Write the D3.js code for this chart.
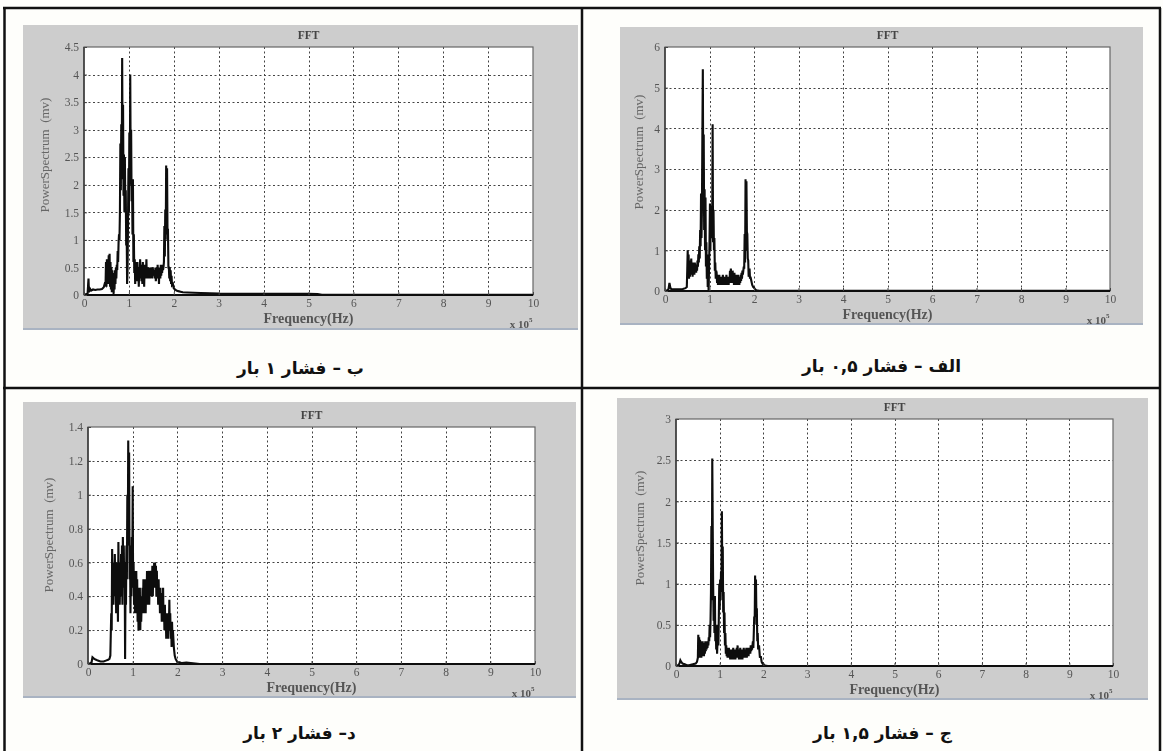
<!DOCTYPE html>
<html>
<head>
<meta charset="utf-8">
<script src="https://cdn.jsdelivr.net/npm/d3@7"></script>
<style>
  html, body { margin: 0; padding: 0; background: #fefefb; }
  svg { display: block; }
</style>
</head>
<body>
<svg id="fig" width="1163" height="751"></svg>
<script>
// ---------------------------------------------------------------
// Spectra: [frequency (x10^5 Hz), power spectrum (mv)]
// ---------------------------------------------------------------
const freqTicks = [0, 1, 2, 3, 4, 5, 6, 7, 8, 9, 10];

const yTicks05 = [0, 1, 2, 3, 4, 5, 6];
const yTicks10 = [0, 0.5, 1, 1.5, 2, 2.5, 3, 3.5, 4, 4.5];
const yTicks15 = [0, 0.5, 1, 1.5, 2, 2.5, 3];
const yTicks20 = [0, 0.2, 0.4, 0.6, 0.8, 1, 1.2, 1.4];

// 0.5 bar
const spectrum05 = [
  [0,0],[0.05,0.02],[0.08,0.05],[0.1,0.2],[0.12,0.08],[0.14,0.05],[0.2,0.04],[0.3,0.04],[0.4,0.05],[0.46,0.07],[0.49,0.1],
  [0.5,0.5],[0.51,1.0],[0.52,0.4],[0.53,0.9],[0.54,0.3],[0.55,0.75],[0.56,0.35],[0.57,0.7],[0.58,0.4],[0.59,0.8],
  [0.6,0.45],[0.61,0.65],[0.62,0.35],[0.63,0.7],[0.64,0.45],[0.65,0.6],[0.66,0.4],[0.67,0.7],[0.68,0.5],[0.69,0.6],
  [0.7,0.45],[0.71,0.65],[0.72,0.5],[0.73,0.75],[0.74,0.6],[0.75,0.9],[0.76,0.7],[0.77,1.1],[0.78,0.8],[0.79,1.5],
  [0.8,1.1],[0.81,2.4],[0.82,1.3],[0.83,2.0],[0.84,3.85],[0.85,5.45],[0.86,2.5],[0.87,3.85],[0.88,1.5],[0.89,2.5],
  [0.9,1.0],[0.91,2.3],[0.92,0.6],[0.93,1.2],[0.94,0.3],[0.95,0.9],[0.96,0.1],[0.97,0.4],[0.98,0.0],[0.99,0.6],
  [1.0,1.2],[1.01,2.15],[1.02,1.0],[1.03,2.1],[1.04,1.3],[1.05,2.0],[1.06,1.5],[1.07,4.1],[1.08,1.2],[1.09,2.0],
  [1.1,1.0],[1.11,1.3],[1.12,0.5],[1.13,0.7],[1.14,0.3],[1.15,0.5],
  [1.16,0.45],[1.17,0.2],[1.18,0.4],[1.19,0.15],[1.2,0.35],[1.21,0.2],[1.22,0.4],[1.23,0.15],[1.24,0.35],[1.25,0.2],
  [1.26,0.3],[1.27,0.15],[1.28,0.35],[1.29,0.2],[1.3,0.4],[1.31,0.15],[1.32,0.3],[1.33,0.2],[1.34,0.35],[1.35,0.15],
  [1.36,0.3],[1.37,0.2],[1.38,0.4],[1.39,0.15],[1.4,0.35],[1.41,0.2],[1.42,0.3],[1.43,0.15],[1.44,0.35],[1.45,0.2],
  [1.46,0.5],[1.47,0.25],[1.48,0.55],[1.49,0.2],[1.5,0.45],[1.51,0.2],[1.52,0.5],[1.53,0.25],[1.54,0.4],[1.55,0.15],
  [1.56,0.45],[1.57,0.2],[1.58,0.35],[1.59,0.15],[1.6,0.4],[1.61,0.2],[1.62,0.3],[1.63,0.15],[1.64,0.4],[1.65,0.2],
  [1.66,0.35],[1.67,0.15],[1.68,0.3],[1.69,0.2],[1.7,0.4],[1.71,0.25],[1.72,0.45],[1.73,0.3],[1.74,0.5],[1.75,0.4],
  [1.76,0.5],[1.77,0.6],[1.78,0.55],[1.79,1.4],[1.8,0.7],[1.81,2.75],[1.82,1.0],[1.83,2.7],[1.84,1.45],[1.85,1.4],
  [1.86,0.8],[1.87,0.75],[1.88,0.35],[1.9,0.55],[1.91,0.3],[1.92,0.35],[1.94,0.25],[1.96,0.15],[1.98,0.1],[2.0,0.08],
  [2.02,0.05],[2.05,0.02],[2.1,0.01],[2.2,0.005],[3,0.005],[10,0.005]
];

// 1 bar
const spectrum10 = [
  [0,0],[0.02,0.01],[0.08,0.02],[0.1,0.3],[0.11,0.05],[0.13,0.12],[0.16,0.08],[0.2,0.1],[0.25,0.09],[0.3,0.1],
  [0.35,0.1],[0.4,0.11],[0.44,0.14],[0.46,0.2],[0.48,0.18],
  [0.49,0.6],[0.5,0.15],[0.51,0.65],[0.52,0.25],[0.53,0.55],[0.54,0.2],[0.55,0.72],[0.56,0.3],[0.57,0.75],[0.58,0.15],
  [0.59,0.6],[0.6,0.1],[0.61,0.5],[0.62,0.05],[0.63,0.45],[0.64,0.15],[0.65,0.35],[0.66,0.02],[0.67,0.4],[0.68,0.1],
  [0.69,0.45],[0.7,0.2],[0.71,0.5],[0.72,0.3],[0.73,0.55],[0.74,0.45],[0.75,0.8],[0.76,0.6],[0.77,0.95],[0.78,1.1],
  [0.79,1.0],[0.8,1.5],[0.81,2.75],[0.82,1.9],[0.83,3.1],[0.84,2.1],[0.85,4.3],[0.86,2.5],[0.87,3.45],[0.88,1.8],
  [0.89,2.55],[0.9,1.5],[0.91,2.5],[0.92,1.6],[0.93,1.9],[0.94,0.9],[0.95,1.2],[0.96,0.2],[0.97,0.45],[0.98,1.3],
  [0.99,2.3],[1.0,1.5],[1.01,2.95],[1.02,2.0],[1.03,4.0],[1.04,2.3],[1.05,3.0],[1.06,1.7],[1.07,2.1],[1.08,1.1],
  [1.09,2.1],[1.1,0.6],[1.11,1.1],[1.12,0.4],[1.13,0.65],[1.14,0.2],[1.15,0.6],
  [1.16,0.35],[1.17,0.55],[1.18,0.25],[1.19,0.6],[1.2,0.3],[1.21,0.5],[1.22,0.15],[1.23,0.45],[1.24,0.3],[1.25,0.65],
  [1.26,0.35],[1.27,0.55],[1.28,0.25],[1.29,0.5],[1.3,0.2],[1.31,0.6],[1.32,0.35],[1.33,0.45],[1.34,0.15],[1.35,0.55],
  [1.36,0.3],[1.37,0.5],[1.38,0.35],[1.39,0.65],[1.4,0.3],[1.42,0.45],[1.43,0.3],[1.44,0.5],[1.45,0.35],[1.46,0.45],
  [1.47,0.3],[1.48,0.5],[1.5,0.35],[1.51,0.45],[1.52,0.3],[1.53,0.5],[1.55,0.35],[1.56,0.45],[1.58,0.3],[1.59,0.5],
  [1.6,0.25],[1.62,0.45],[1.63,0.3],[1.64,0.55],[1.65,0.3],[1.66,0.45],[1.67,0.2],[1.68,0.5],[1.7,0.3],[1.71,0.55],
  [1.72,0.35],[1.73,0.5],[1.74,0.4],[1.75,0.55],[1.76,0.45],[1.77,0.5],[1.78,0.6],[1.79,1.25],[1.8,0.7],[1.81,1.55],
  [1.82,1.0],[1.83,2.35],[1.84,1.2],[1.85,2.3],[1.86,1.1],[1.87,1.2],[1.88,0.5],[1.89,0.5],[1.9,0.3],[1.91,0.5],
  [1.92,0.25],[1.93,0.45],[1.94,0.2],[1.95,0.35],[1.96,0.18],[1.98,0.2],[2.0,0.12],[2.03,0.1],[2.06,0.08],[2.1,0.07],
  [2.15,0.06],[2.2,0.05],[2.3,0.045],[2.45,0.04],[2.6,0.035],[2.8,0.03],[3.0,0.025],[3.5,0.022],[4.0,0.02],[4.5,0.02],
  [5.0,0.02],[5.2,0.015],[5.3,0.005],[6,0.005],[8,0.005],[10,0.005]
];

// 1.5 bar
const spectrum15 = [
  [0,0],[0.05,0.01],[0.08,0.03],[0.1,0.07],[0.12,0.05],[0.15,0.03],[0.2,0.02],[0.25,0.01],[0.3,0.01],[0.38,0.02],
  [0.45,0.03],[0.48,0.05],[0.5,0.1],[0.51,0.38],[0.52,0.15],[0.53,0.35],[0.54,0.1],[0.55,0.32],[0.56,0.12],[0.57,0.3],
  [0.58,0.1],[0.59,0.28],[0.6,0.12],[0.61,0.3],[0.62,0.15],[0.63,0.28],[0.64,0.12],[0.65,0.25],[0.66,0.15],[0.67,0.3],
  [0.68,0.18],[0.69,0.25],[0.7,0.2],[0.71,0.3],[0.72,0.22],[0.73,0.3],[0.74,0.25],[0.75,0.35],[0.76,0.3],[0.77,0.5],
  [0.78,0.35],[0.79,0.55],[0.8,0.9],[0.81,1.7],[0.82,0.8],[0.83,2.52],[0.84,1.7],[0.85,1.0],[0.86,0.55],[0.87,0.85],
  [0.88,0.4],[0.89,0.85],[0.9,0.3],[0.91,0.5],[0.92,0.2],[0.93,0.35],[0.94,0.15],[0.95,0.3],[0.96,0.5],[0.97,0.25],
  [0.98,0.6],[0.99,1.0],[1.0,0.7],[1.01,1.05],[1.02,0.8],[1.03,1.15],[1.04,0.9],[1.05,1.88],[1.06,1.0],[1.07,1.45],
  [1.08,0.65],[1.09,0.9],[1.1,0.4],[1.11,0.65],[1.12,0.25],[1.13,0.4],[1.14,0.15],
  [1.15,0.25],[1.16,0.12],[1.17,0.22],[1.18,0.1],[1.19,0.2],[1.2,0.12],[1.21,0.22],[1.22,0.1],[1.23,0.2],[1.24,0.08],
  [1.25,0.18],[1.26,0.1],[1.27,0.2],[1.28,0.08],[1.29,0.18],[1.3,0.1],[1.31,0.22],[1.32,0.08],[1.33,0.18],[1.34,0.1],
  [1.35,0.2],[1.36,0.08],[1.37,0.18],[1.38,0.1],[1.39,0.22],[1.4,0.12],[1.41,0.25],[1.42,0.1],[1.43,0.2],[1.44,0.08],
  [1.45,0.18],[1.46,0.1],[1.47,0.22],[1.48,0.08],[1.49,0.2],[1.5,0.1],[1.51,0.18],[1.52,0.08],[1.53,0.2],[1.54,0.1],
  [1.55,0.22],[1.56,0.12],[1.57,0.2],[1.58,0.1],[1.59,0.18],[1.6,0.12],[1.61,0.22],[1.62,0.1],[1.63,0.2],[1.64,0.12],
  [1.65,0.22],[1.66,0.12],[1.67,0.2],[1.68,0.15],[1.69,0.22],[1.7,0.15],[1.71,0.25],[1.72,0.18],[1.73,0.22],[1.74,0.2],
  [1.75,0.25],[1.76,0.3],[1.77,0.22],[1.78,0.4],[1.79,0.6],[1.8,0.5],[1.81,1.1],[1.82,0.7],[1.83,1.05],[1.84,0.6],
  [1.85,0.7],[1.86,0.3],[1.87,0.4],[1.88,0.2],[1.9,0.25],[1.92,0.1],[1.94,0.12],[1.96,0.05],[1.98,0.03],[2.0,0.02],
  [2.04,0.005],[2.1,0],[10,0]
];

// 2 bar
const spectrum20 = [
  [0,0],[0.05,0.005],[0.08,0.01],[0.1,0.04],[0.12,0.035],[0.14,0.03],[0.18,0.025],[0.22,0.02],[0.28,0.015],[0.35,0.015],
  [0.4,0.02],[0.45,0.025],[0.48,0.03],[0.5,0.05],[0.51,0.18],[0.52,0.3],[0.53,0.2],[0.54,0.68],[0.55,0.4],[0.56,0.6],
  [0.57,0.35],[0.58,0.55],[0.59,0.4],[0.6,0.65],[0.61,0.45],[0.62,0.55],[0.63,0.3],[0.64,0.6],[0.65,0.4],[0.66,0.5],
  [0.67,0.25],[0.68,0.72],[0.69,0.45],[0.7,0.6],[0.71,0.35],[0.72,0.55],[0.73,0.4],[0.74,0.65],[0.75,0.45],[0.76,0.7],
  [0.77,0.35],[0.78,0.75],[0.79,0.55],[0.8,0.7],[0.81,0.45],[0.82,0.6],[0.83,0.03],[0.84,0.5],[0.85,0.35],[0.86,0.7],
  [0.87,0.5],[0.88,1.0],[0.89,0.7],[0.9,1.32],[0.91,0.75],[0.92,1.25],[0.93,0.5],[0.94,0.7],[0.95,0.3],[0.96,0.6],
  [0.97,0.4],[0.98,0.75],[0.99,0.5],[1.0,1.05],[1.01,0.45],[1.02,0.6],[1.03,0.35],[1.04,0.55],[1.05,0.3],[1.06,0.5],
  [1.07,0.35],[1.08,0.55],[1.09,0.3],[1.1,0.5],[1.11,0.25],[1.12,0.45],[1.13,0.2],[1.14,0.4],[1.15,0.25],[1.16,0.45],
  [1.17,0.2],[1.18,0.4],[1.19,0.25],[1.2,0.35],[1.21,0.3],[1.22,0.45],[1.23,0.3],[1.24,0.5],[1.25,0.3],[1.26,0.45],
  [1.27,0.35],[1.28,0.5],[1.29,0.3],[1.3,0.45],[1.31,0.35],[1.32,0.55],[1.33,0.35],[1.34,0.5],[1.35,0.4],[1.36,0.55],
  [1.37,0.35],[1.38,0.5],[1.39,0.4],[1.4,0.55],[1.41,0.4],[1.42,0.55],[1.43,0.45],[1.44,0.58],[1.45,0.4],[1.46,0.55],
  [1.47,0.45],[1.48,0.6],[1.49,0.45],[1.5,0.6],[1.51,0.45],[1.52,0.58],[1.53,0.4],[1.54,0.55],[1.55,0.4],[1.56,0.5],
  [1.57,0.35],[1.58,0.5],[1.59,0.35],[1.6,0.45],[1.61,0.3],[1.62,0.45],[1.63,0.3],[1.64,0.42],[1.65,0.25],[1.66,0.4],
  [1.67,0.3],[1.68,0.45],[1.69,0.25],[1.7,0.35],[1.71,0.2],[1.72,0.35],[1.73,0.2],[1.74,0.3],[1.75,0.15],[1.76,0.3],
  [1.77,0.2],[1.78,0.25],[1.79,0.15],[1.8,0.3],[1.81,0.2],[1.82,0.38],[1.83,0.2],[1.84,0.3],[1.85,0.15],[1.86,0.25],
  [1.87,0.1],[1.88,0.25],[1.89,0.15],[1.9,0.2],[1.92,0.1],[1.94,0.05],[1.96,0.03],[1.98,0.02],[2.0,0.01],[2.05,0.01],
  [2.1,0.005],[2.2,0.008],[2.4,0.003],[2.5,0],[10,0]
];

const plotTitle = "FFT";
const xLabel = "Frequency(Hz)";
const yLabel = "PowerSpectrum  (mv)";
const captions = ["الف – فشار ۰,۵ بار", "ب – فشار ۱ بار", "ج – فشار ۱,۵ بار", "د– فشار ۲ بار"];

// ---------------------------------------------------------------
// Layout of the four figure windows inside the table
// ---------------------------------------------------------------
const panels = [
  { data: spectrum10, yTicks: yTicks10, caption: captions[1],
    win: [23, 25, 555, 305], plot: [84, 47, 449, 248], ylab: [44, 155], capY: 374 },
  { data: spectrum05, yTicks: yTicks05, caption: captions[0],
    win: [620, 27, 523, 298], plot: [665, 47, 445, 244], ylab: [638, 152], capY: 372 },
  { data: spectrum20, yTicks: yTicks20, caption: captions[3],
    win: [23, 402, 553, 296], plot: [88, 427, 447, 237], ylab: [48, 535], capY: 739 },
  { data: spectrum15, yTicks: yTicks15, caption: captions[2],
    win: [617, 398, 531, 302], plot: [676, 419, 437, 247], ylab: [639, 528], capY: 739 }
];

const svg = d3.select("#fig");
const serif = "'Liberation Serif', 'DejaVu Serif', serif";

// slight softening of the screenshot-like figure windows
svg.append("defs").append("filter").attr("id", "soft")
  .attr("x", "-2%").attr("y", "-2%").attr("width", "104%").attr("height", "104%")
  .append("feGaussianBlur").attr("stdDeviation", 0.45);

// table frame
const frame = svg.append("g").attr("stroke", "#111").attr("stroke-width", 2.5).attr("fill", "none");
frame.append("line").attr("x1", 3).attr("x2", 1161).attr("y1", 8).attr("y2", 8);
frame.append("line").attr("x1", 1161).attr("x2", 3).attr("y1", 388).attr("y2", 388);
frame.append("line").attr("x1", 4.5).attr("x2", 4.5).attr("y1", 8).attr("y2", 751);
frame.append("line").attr("x1", 1160).attr("x2", 1160).attr("y1", 8).attr("y2", 751);
frame.append("line").attr("x1", 582).attr("x2", 582).attr("y1", 8).attr("y2", 751);

panels.forEach((p, i) => {
  const g = svg.append("g").attr("filter", "url(#soft)");
  const [wx, wy, ww, wh] = p.win;
  const [px, py, pw, ph] = p.plot;

  // figure window background
  g.append("rect").attr("x", wx).attr("y", wy).attr("width", ww).attr("height", wh).attr("fill", "#cdcdcd");
  g.append("line").attr("x1", wx).attr("x2", wx + ww).attr("y1", wy + wh - 1).attr("y2", wy + wh - 1)
    .attr("stroke", "#a9b3c2").attr("stroke-width", 2);

  const x = d3.scaleLinear().domain([0, 10]).range([px, px + pw]);
  const yMax = d3.max(p.yTicks);
  const y = d3.scaleLinear().domain([0, yMax]).range([py + ph, py]);

  // axes area
  g.append("rect").attr("x", px).attr("y", py).attr("width", pw).attr("height", ph).attr("fill", "#fff");

  // dotted grid
  const grid = g.append("g").attr("stroke", "#444").attr("stroke-width", 1).attr("stroke-dasharray", "2,2.5");
  grid.selectAll("line.v").data(freqTicks.slice(1, -1)).join("line")
    .attr("x1", d => Math.round(x(d)) + 0.5).attr("x2", d => Math.round(x(d)) + 0.5)
    .attr("y1", py).attr("y2", py + ph);
  grid.selectAll("line.h").data(p.yTicks.slice(1, -1)).join("line")
    .attr("y1", d => Math.round(y(d)) + 0.5).attr("y2", d => Math.round(y(d)) + 0.5)
    .attr("x1", px).attr("x2", px + pw);

  // spectrum trace
  const clipId = "clip" + i;
  g.append("clipPath").attr("id", clipId).append("rect")
    .attr("x", px).attr("y", py - 1).attr("width", pw).attr("height", ph + 2);
  const line = d3.line().x(d => x(d[0])).y(d => y(d[1]));
  g.append("path").datum(p.data).attr("d", line).attr("clip-path", `url(#${clipId})`)
    .attr("fill", "none").attr("stroke", "#0a0a0a").attr("stroke-width", 2.1).attr("stroke-linejoin", "miter")
    .attr("stroke-miterlimit", 3);

  // box
  g.append("rect").attr("x", px).attr("y", py).attr("width", pw).attr("height", ph)
    .attr("fill", "none").attr("stroke", "#666").attr("stroke-width", 1.2);
  g.append("line").attr("x1", px).attr("x2", px + pw).attr("y1", py + ph).attr("y2", py + ph)
    .attr("stroke", "#111").attr("stroke-width", 2.2);
  g.append("line").attr("x1", px).attr("x2", px).attr("y1", py).attr("y2", py + ph)
    .attr("stroke", "#333").attr("stroke-width", 1.4);

  // tick labels
  const xAxis = g.append("g").attr("transform", `translate(0,${py + ph})`)
    .call(d3.axisBottom(x).tickValues(freqTicks).tickSize(-3).tickPadding(4).tickFormat(d => String(d)));
  xAxis.select(".domain").remove();
  xAxis.selectAll("line").attr("stroke", "#444");
  xAxis.selectAll("text").attr("font-family", serif).attr("font-size", 11.5).attr("fill", "#555");

  const yAxis = g.append("g").attr("transform", `translate(${px},0)`)
    .call(d3.axisLeft(y).tickValues(p.yTicks).tickSize(-3).tickPadding(5).tickFormat(d => String(d)));
  yAxis.select(".domain").remove();
  yAxis.selectAll("line").attr("stroke", "#444");
  yAxis.selectAll("text").attr("font-family", serif).attr("font-size", 11.5).attr("fill", "#555");

  // title and labels
  g.append("text").attr("x", px + pw / 2).attr("y", py - 8).attr("text-anchor", "middle")
    .attr("font-family", serif).attr("font-size", 11.5).attr("font-weight", "bold").attr("fill", "#444")
    .text(plotTitle);
  g.append("text").attr("x", px + pw / 2).attr("y", py + ph + 28).attr("text-anchor", "middle")
    .attr("font-family", serif).attr("font-size", 14).attr("font-weight", "bold").attr("fill", "#555")
    .text(xLabel);
  g.append("text").attr("transform", `translate(${p.ylab[0]},${p.ylab[1]}) rotate(-90)`)
    .attr("text-anchor", "middle").attr("dominant-baseline", "central")
    .attr("font-family", serif).attr("font-size", 13).attr("fill", "#666")
    .style("white-space", "pre").text(yLabel);
  const mult = g.append("text").attr("x", px + pw - 12).attr("y", py + ph + 33).attr("text-anchor", "middle")
    .attr("font-family", serif).attr("font-size", 11).attr("font-weight", "bold").attr("fill", "#555");
  mult.append("tspan").text("x 10");
  mult.append("tspan").attr("dy", -6).attr("font-size", 7).text("5");

  // caption
  svg.append("text").attr("x", wx + ww / 2).attr("y", p.capY).attr("text-anchor", "middle")
    .attr("direction", "rtl")
    .attr("font-family", "'DejaVu Sans', sans-serif").attr("font-size", 17).attr("font-weight", "bold")
    .attr("fill", "#111").text(p.caption);
});
</script>
</body>
</html>
